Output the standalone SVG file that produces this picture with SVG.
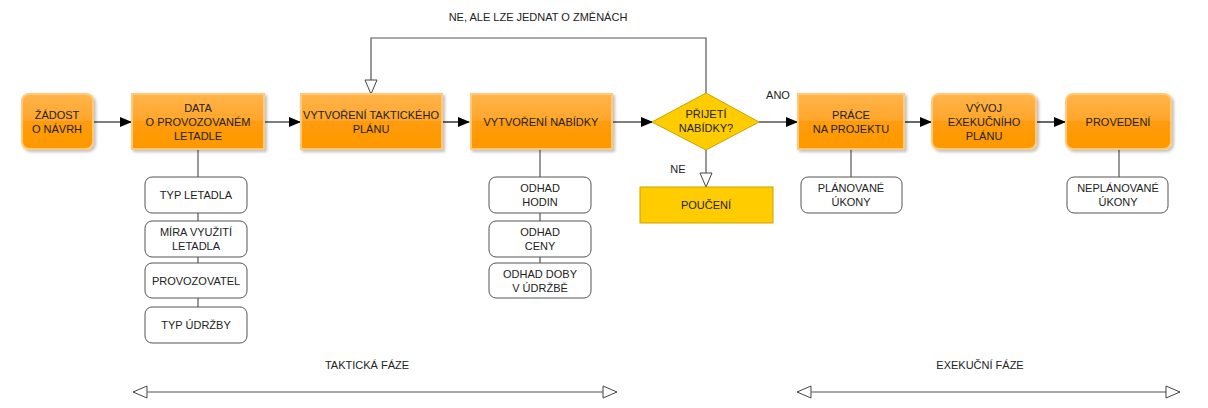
<svg xmlns="http://www.w3.org/2000/svg" width="1208" height="408" viewBox="0 0 1208 408">
<defs>
<linearGradient id="og" x1="0" y1="0" x2="0" y2="1">
<stop offset="0" stop-color="#FFB44A"/>
<stop offset="0.5" stop-color="#FFA52A"/>
<stop offset="0.5" stop-color="#FF9C0A"/>
<stop offset="1" stop-color="#FF9800"/>
</linearGradient>
<filter id="sh" x="-10%" y="-10%" width="130%" height="140%">
<feDropShadow dx="2" dy="2" stdDeviation="1.5" flood-color="#000" flood-opacity="0.25"/>
</filter>
<marker id="fa" markerWidth="12" markerHeight="10" refX="11" refY="5" orient="auto" markerUnits="userSpaceOnUse">
<path d="M0,0 L12,5 L0,10 Z" fill="#000"/>
</marker>
<marker id="ha" markerWidth="16" markerHeight="14" refX="15" refY="7" orient="auto" markerUnits="userSpaceOnUse">
<path d="M1,1 L15,7 L1,13 Z" fill="#fff" stroke="#444" stroke-width="1"/>
</marker>
<marker id="hs" markerWidth="16" markerHeight="14" refX="1" refY="7" orient="auto" markerUnits="userSpaceOnUse">
<path d="M15,1 L1,7 L15,13 Z" fill="#fff" stroke="#444" stroke-width="1"/>
</marker>
</defs>
<style>
.t{font-family:"Liberation Sans",Arial,sans-serif;font-size:11px;fill:#222;text-anchor:middle}
.o{fill:url(#og);stroke:#FFC977;stroke-width:2;filter:url(#sh)}
.w{fill:#fff;stroke:#555;stroke-width:1}
.y{fill:#FFCC00;stroke:#C9A200;stroke-width:1}
.c{fill:none;stroke:#000;stroke-width:1.2}
.g{fill:none;stroke:#555;stroke-width:1.2}
</style>
<rect width="1208" height="408" fill="#fff"/>

<g id="connectors">
<line class="c" x1="93" y1="122" x2="131" y2="122" marker-end="url(#fa)"/>
<line class="c" x1="264" y1="122" x2="300" y2="122" marker-end="url(#fa)"/>
<line class="c" x1="442" y1="122" x2="469" y2="122" marker-end="url(#fa)"/>
<line class="c" x1="612" y1="122" x2="652" y2="122" marker-end="url(#fa)"/>
<line class="c" x1="759" y1="122" x2="797" y2="122" marker-end="url(#fa)"/>
<line class="c" x1="904" y1="122" x2="931" y2="122" marker-end="url(#fa)"/>
<line class="c" x1="1036" y1="122" x2="1065" y2="122" marker-end="url(#fa)"/>
<polyline class="g" points="706,93 706,38 371,38 371,94" marker-end="url(#ha)"/>
<line class="g" x1="706" y1="150" x2="706" y2="187" marker-end="url(#ha)"/>
<line class="g" x1="198" y1="149" x2="198" y2="307"/>
<line class="g" x1="540" y1="149" x2="540" y2="263"/>
<line class="g" x1="851" y1="149" x2="851" y2="177"/>
<line class="g" x1="1119" y1="149" x2="1119" y2="177"/>
<line class="g" x1="133" y1="392" x2="617" y2="392" marker-start="url(#hs)" marker-end="url(#ha)"/>
<line class="g" x1="797" y1="392" x2="1180" y2="392" marker-start="url(#hs)" marker-end="url(#ha)"/>
</g>

<text class="t" x="538" y="21">NE, ALE LZE JEDNAT O ZMĚNÁCH</text>
<text class="t" x="778" y="99">ANO</text>
<text class="t" x="678" y="173">NE</text>
<text class="t" x="367" y="369">TAKTICKÁ FÁZE</text>
<text class="t" x="980" y="369">EXEKUČNÍ FÁZE</text>

<g id="n-zadost"><rect class="o" x="22" y="94" width="71" height="55" rx="7"/>
<text class="t" x="57" y="119">ŽÁDOST</text><text class="t" x="57" y="133">O NÁVRH</text></g>
<g id="n-data"><rect class="o" x="132" y="94" width="132" height="55"/>
<text class="t" x="198" y="112">DATA</text><text class="t" x="198" y="126">O PROVOZOVANÉM</text><text class="t" x="198" y="140">LETADLE</text></g>
<g id="n-takt"><rect class="o" x="301" y="94" width="141" height="55"/>
<text class="t" x="371" y="119">VYTVOŘENÍ TAKTICKÉHO</text><text class="t" x="371" y="133">PLÁNU</text></g>
<g id="n-nab"><rect class="o" x="471" y="94" width="141" height="55"/>
<text class="t" x="541" y="126">VYTVOŘENÍ NABÍDKY</text></g>
<g id="n-prijeti"><polygon points="706,93 759,122 706,150 652,122" fill="#FFCC00" stroke="#C9A200" stroke-width="1"/>
<text class="t" x="706" y="118">PŘIJETÍ</text><text class="t" x="706" y="132">NABÍDKY?</text></g>
<g id="n-pouceni"><rect class="y" x="640" y="187" width="133" height="36"/>
<text class="t" x="706" y="209">POUČENÍ</text></g>
<g id="n-prace"><rect class="o" x="798" y="94" width="106" height="55"/>
<text class="t" x="851" y="119">PRÁCE</text><text class="t" x="851" y="133">NA PROJEKTU</text></g>
<g id="n-vyvoj"><rect class="o" x="932" y="94" width="104" height="55" rx="7"/>
<text class="t" x="984" y="112">VÝVOJ</text><text class="t" x="984" y="126">EXEKUČNÍHO</text><text class="t" x="984" y="140">PLÁNU</text></g>
<g id="n-provedeni"><rect class="o" x="1066" y="94" width="105" height="55" rx="7"/>
<text class="t" x="1118" y="126">PROVEDENÍ</text></g>

<g id="s-typ"><rect class="w" x="145" y="177" width="102" height="36" rx="7"/><text class="t" x="196" y="199">TYP LETADLA</text></g>
<g id="s-mira"><rect class="w" x="145" y="221" width="102" height="36" rx="7"/><text class="t" x="196" y="236">MÍRA VYUŽITÍ</text><text class="t" x="196" y="250">LETADLA</text></g>
<g id="s-prov"><rect class="w" x="145" y="263" width="102" height="35" rx="7"/><text class="t" x="196" y="285">PROVOZOVATEL</text></g>
<g id="s-udrz"><rect class="w" x="145" y="307" width="102" height="36" rx="7"/><text class="t" x="196" y="329">TYP ÚDRŽBY</text></g>

<g id="s-hodin"><rect class="w" x="489" y="177" width="102" height="36" rx="7"/><text class="t" x="540" y="192">ODHAD</text><text class="t" x="540" y="206">HODIN</text></g>
<g id="s-ceny"><rect class="w" x="489" y="221" width="102" height="36" rx="7"/><text class="t" x="540" y="236">ODHAD</text><text class="t" x="540" y="250">CENY</text></g>
<g id="s-doby"><rect class="w" x="489" y="263" width="102" height="35" rx="7"/><text class="t" x="540" y="278">ODHAD DOBY</text><text class="t" x="540" y="292">V ÚDRŽBĚ</text></g>

<g id="s-plan"><rect class="w" x="801" y="177" width="101" height="36" rx="7"/><text class="t" x="851" y="192">PLÁNOVANÉ</text><text class="t" x="851" y="206">ÚKONY</text></g>
<g id="s-neplan"><rect class="w" x="1067" y="177" width="101" height="36" rx="7"/><text class="t" x="1118" y="192">NEPLÁNOVANÉ</text><text class="t" x="1118" y="206">ÚKONY</text></g>
</svg>
